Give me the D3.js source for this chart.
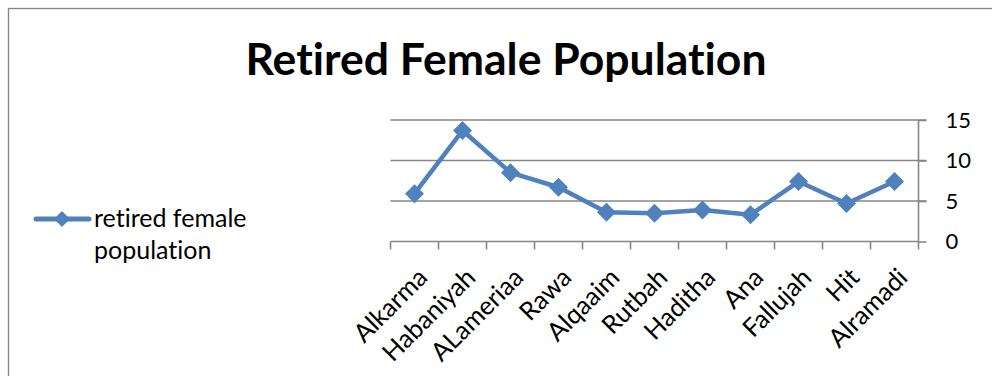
<!DOCTYPE html>
<html><head><meta charset="utf-8">
<script src="https://cdn.jsdelivr.net/npm/d3@7"></script>
<style>html,body{margin:0;padding:0;background:#fff;}svg{display:block;}text{font-variant-ligatures:none;}</style>
</head><body>
<svg id="c" width="992" height="376"></svg>
<script>
const categories = ["Alkarma","Habaniyah","ALameriaa","Rawa","Alqaaim","Rutbah","Haditha","Ana","Fallujah","Hit","Alramadi"];
const values = [5.9, 13.7, 8.5, 6.7, 3.6, 3.5, 3.9, 3.3, 7.4, 4.7, 7.4];
const yTicks = [0, 5, 10, 15];
const title = "Retired Female Population";
const seriesName = ["retired female", "population"];

const FONT = "Lato, 'Open Sans', sans-serif";
const color = "#4F81BD";
const gridColor = "#868686";

const svg = d3.select("#c");
svg.append("rect").attr("x",8.5).attr("y",8.5).attr("width",1000).attr("height",400)
  .attr("fill","#fff").attr("stroke",gridColor).attr("stroke-width",1.3);

const L = 390.5, R = 918.5, T = 120, B = 241.5;
const x = d3.scaleBand().domain(categories).range([L, R]);
const y = d3.scaleLinear().domain([0, 15]).range([B, T]);

// gridlines
const g = svg.append("g");
g.selectAll("line.grid").data(yTicks.filter(d=>d>0)).join("line")
  .attr("x1", L).attr("x2", R + 8).attr("y1", d=>y(d)).attr("y2", d=>y(d))
  .attr("stroke", gridColor).attr("stroke-width", 1.6);

// right axis
const yAxis = d3.axisRight(y).tickValues(yTicks).tickSize(8).tickPadding(19).tickFormat(d3.format("d"));
const ya = svg.append("g").attr("transform", `translate(${R},0)`).call(yAxis);
ya.select(".domain").attr("stroke", gridColor).attr("stroke-width", 1.6).attr("d", `M0,${T}V${B}`);
ya.selectAll(".tick line").attr("stroke", gridColor).attr("stroke-width", 1.6);
ya.selectAll(".tick text").attr("font-family", FONT).attr("font-size", 22).attr("fill", "#000");

// x axis
const xa = svg.append("g").attr("transform", `translate(0,${B})`);
xa.append("line").attr("x1", L).attr("x2", R).attr("stroke", gridColor).attr("stroke-width", 1.6);
const boundaries = categories.map(c => x(c)).concat([R]);
xa.selectAll("line.tk").data(boundaries).join("line")
  .attr("x1", d=>d).attr("x2", d=>d).attr("y1", 0).attr("y2", 8)
  .attr("stroke", gridColor).attr("stroke-width", 1.6);
xa.selectAll("text").data(categories).join("text")
  .attr("transform", d => `translate(${x(d) + x.bandwidth()/2 + 7.5},${30.5}) rotate(-45)`)
  .attr("text-anchor", "end").attr("dominant-baseline", "central")
  .attr("font-family", FONT).attr("font-size", 25.5).attr("fill", "#000")
  .text(d => d);

// line
const line = d3.line().x((d,i)=>x(categories[i]) + x.bandwidth()/2).y(d=>y(d));
svg.append("path").datum(values).attr("d", line).attr("fill","none")
  .attr("stroke", color).attr("stroke-width", 4.5).attr("stroke-linejoin","round");
const diamond = r => `M0,${-r}L${r},0L0,${r}L${-r},0Z`;
svg.selectAll("path.pt").data(values).join("path").attr("class","pt")
  .attr("transform", (d,i)=>`translate(${x(categories[i]) + x.bandwidth()/2},${y(d)})`)
  .attr("d", diamond(9.5)).attr("fill", color);

// title
svg.append("text").attr("x", 506).attr("y", 75).attr("text-anchor","middle")
  .attr("font-family", FONT).attr("font-weight","bold").attr("font-size", 44.5).attr("fill","#000")
  .text(title);

// legend
const lg = svg.append("g");
lg.append("line").attr("x1",36).attr("x2",89).attr("y1",219).attr("y2",219)
  .attr("stroke",color).attr("stroke-width",5).attr("stroke-linecap","round");
lg.append("path").attr("transform","translate(62,219)").attr("d", diamond(8)).attr("fill",color);
lg.selectAll("text").data(seriesName).join("text")
  .attr("x", 94).attr("y", (d,i)=>227 + i*32)
  .attr("font-family", FONT).attr("font-size", 25).attr("fill","#000").text(d=>d);
</script>
</body></html>
